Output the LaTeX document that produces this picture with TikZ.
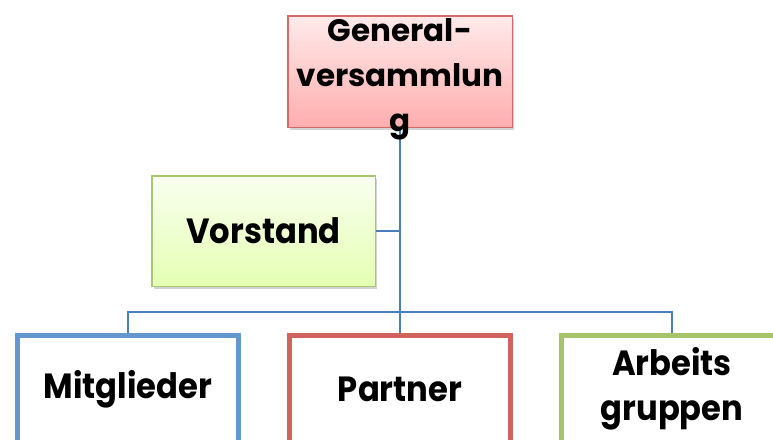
\documentclass[tikz,border=0pt]{standalone}
\usepackage{fontspec}
\setmainfont{Poppins}
\newfontfamily\narrowfont{Poppins}[FakeStretch=0.92]
\usetikzlibrary{calc,positioning,shadows}
\definecolor{linkblue}{HTML}{4A7EBB}
\definecolor{gvred}{HTML}{D46A6A}
\definecolor{vsgreen}{HTML}{A8C870}
\definecolor{mgblue}{HTML}{6497CD}
\definecolor{ptred}{HTML}{D0635D}
\definecolor{aggreen}{HTML}{A6C46A}
\pgfdeclarelayer{background}
\pgfsetlayers{background,main}
\tikzstyle{link}  =[draw=linkblue, line width=1.2pt]
\tikzstyle{boxtext}=[font=\narrowfont\fontsize{35}{45}\selectfont\bfseries,
                    align=center, text=black]
\tikzstyle{headbox}=[draw=gvred, line width=1.5pt, inner sep=0pt,
                    top color=red!8, bottom color=red!32,
                    minimum width=224.5pt, minimum height=111.5pt,
                    drop shadow={shadow xshift=2pt, shadow yshift=-3pt,
                    opacity=.35}]
\tikzstyle{sidebox}=[boxtext, draw=vsgreen, line width=1.5pt,
                    top color=green!40!yellow!6, bottom color=green!35!yellow!30,
                    minimum width=223.5pt, minimum height=110.5pt,
                    drop shadow={shadow xshift=2pt, shadow yshift=-3pt,
                    opacity=.35}]
\tikzstyle{unitbox}=[boxtext, fill=white, line width=5pt,
                    minimum width=221pt, minimum height=107pt]

\begin{document}
\begin{tikzpicture}[x=1pt, y=-1pt, node distance=1pt, on grid]
    \useasboundingbox (0,0) rectangle (773,439);
    \clip (0,0) rectangle (773,439);
    \node (gv) [headbox, label={[boxtext, font=\fontsize{31}{45}\selectfont\bfseries,
        yshift=-8pt]center:{General-\\versammlun\\g}}] at (400,71.5) {};
    \node (vs) [sidebox, below left=159.5pt and 136.5pt of gv] {Vorstand};
    \node (pt) [unitbox, draw=ptred, below=317.5pt of gv] {Partner};
    \node (mg) [unitbox, draw=mgblue, left=272pt of pt] {Mitglieder};
    \node (ag) [unitbox, draw=aggreen, right=272pt of pt] {Arbeits\\gruppen};
    \coordinate (bus) at ([yshift=21pt]pt.north);
    \begin{pgfonlayer}{background}
        \draw[link] (gv.south) to (bus);
        \draw[link] (vs.east) to (vs.east -| gv.south);
        \draw[link] (mg.north) |- (bus) -| (ag.north);
        \draw[link] (bus) to (pt.north);
    \end{pgfonlayer}
\end{tikzpicture}
\end{document}
